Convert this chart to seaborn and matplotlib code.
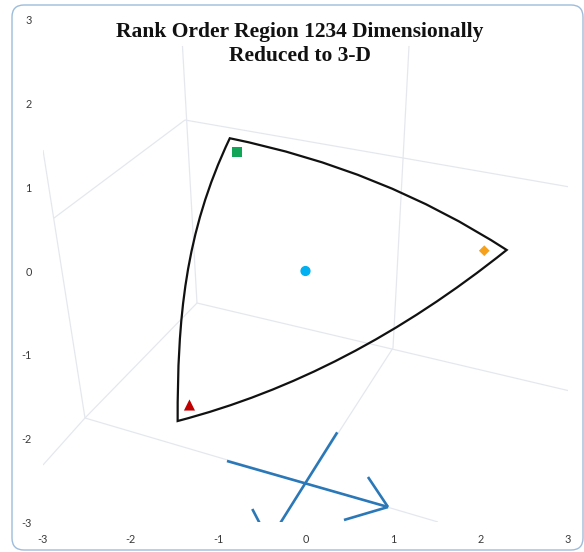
import matplotlib
matplotlib.use("Agg")
import numpy as np
import pandas as pd
import matplotlib.pyplot as plt
from matplotlib.path import Path
from matplotlib.patches import PathPatch, FancyBboxPatch
import seaborn as sns

# Corners of the projected rank-order region: top-left, right, bottom-left
corner_x = [-0.865, 2.299, -1.461]
corner_y = [1.584, 0.251, -1.790]
# Bezier control points that bend each boundary arc
top_arc_ctrl = [(0.874, 1.217)]
bottom_arc_ctrl = [(0.491, -1.260)]
left_arc_ctrl = [(-1.463, -0.585), (-1.382, 0.450)]

# Marked points inside the region
point_names = ["top", "right", "bottom", "center"]
point_x = [-0.786, 2.043, -1.326, 0.0]
point_y = [1.417, 0.242, -1.599, 0.0]
point_colors = ["#10a557", "#f6a11c", "#c00000", "#00b0f0"]
point_markers = ["s", "D", "^", "o"]
point_sizes = [48, 30, 64, 54]

# Faint wireframe edges of the 3-D box (start x, start y, end x, end y)
box_x0 = [-1.406, 1.183, -1.377, -1.240, -1.377, -1.240, -3.000, -2.520, -2.520, 1.000]
box_y0 = [2.685, 2.685, 1.802, -0.382, 1.802, -0.382, 1.444, -1.754, -1.754, -0.919]
box_x1 = [-1.240, 1.000, 3.023, 3.023, -2.874, -2.520, -2.520, -3.000, 1.514, -0.280]
box_y1 = [-0.382, -0.919, 1.002, -1.432, 0.632, -1.754, -1.754, -2.315, -2.995, -2.995]

# Orientation triad: shaft and arrow-head strokes (start x, start y, end x, end y)
triad_x0 = [-0.897, 0.943, 0.943, 0.363, -0.417]
triad_y0 = [-2.267, -2.816, -2.816, -1.925, -3.222]
triad_x1 = [0.943, 0.714, 0.440, -0.417, -0.608]
triad_y1 = [-2.816, -2.458, -2.971, -3.222, -2.840]

tick_values = [-3, -2, -1, 0, 1, 2, 3]
tick_labels = ["-3", "-2", "-1", "0", "1", "2", "3"]
title_lines = ["Rank Order Region 1234 Dimensionally", "Reduced to 3-D"]

sns.set_theme(style="white")
plt.rcParams["font.family"] = ["Lato", "DejaVu Sans"]

fig = plt.figure(figsize=(5.84, 5.52), dpi=100)
ax = fig.add_axes([0.0736, 0.0536, 0.899, 0.9109])
ax.set_xlim(-3, 3)
ax.set_ylim(-3, 3)
for s in ax.spines.values():
    s.set_visible(False)

# 3-D box wireframe
for x0, y0, x1, y1 in zip(box_x0, box_y0, box_x1, box_y1):
    ax.plot([x0, x1], [y0, y1], color="#e4e8ee", lw=0.9, zorder=1,
            solid_capstyle="butt")

# Region boundary made of three arcs
verts = [(corner_x[0], corner_y[0]),
         top_arc_ctrl[0], (corner_x[1], corner_y[1]),
         bottom_arc_ctrl[0], (corner_x[2], corner_y[2]),
         left_arc_ctrl[0], left_arc_ctrl[1], (corner_x[0], corner_y[0]),
         (corner_x[0], corner_y[0])]
codes = [Path.MOVETO,
         Path.CURVE3, Path.CURVE3,
         Path.CURVE3, Path.CURVE3,
         Path.CURVE4, Path.CURVE4, Path.CURVE4,
         Path.CLOSEPOLY]
ax.add_patch(PathPatch(Path(verts, codes), facecolor="none", edgecolor="#111111",
                       lw=1.6, joinstyle="miter", zorder=3))

# Orientation triad
for x0, y0, x1, y1 in zip(triad_x0, triad_y0, triad_x1, triad_y1):
    ax.plot([x0, x1], [y0, y1], color="#2a78b8", lw=1.9, zorder=4,
            solid_capstyle="butt")

# Marked points
df = pd.DataFrame({"name": point_names, "x": point_x, "y": point_y})
sns.scatterplot(data=df, x="x", y="y", hue="name", style="name", size="name",
                palette=dict(zip(point_names, point_colors)),
                markers=dict(zip(point_names, point_markers)),
                sizes=dict(zip(point_names, point_sizes)),
                linewidth=0, legend=False, ax=ax, zorder=5)

ax.set_xlabel("")
ax.set_ylabel("")
ax.set_xticks(tick_values)
ax.set_xticklabels(tick_labels)
ax.set_yticks(tick_values)
ax.set_yticklabels(tick_labels)
ax.tick_params(axis="both", length=0, labelsize=7.8, labelcolor="#3a3a3a")
ax.tick_params(axis="x", pad=8)
ax.tick_params(axis="y", pad=8)

# Two-line bold serif title
for i, line in enumerate(title_lines):
    fig.text(300 / 584, 1 - (37 + 24 * i) / 552, line, ha="center", va="baseline",
             fontfamily="Liberation Serif", fontweight="bold", fontsize=15.5,
             color="#111111")

# Rounded outer frame
fig.patches.append(FancyBboxPatch((0.12, 0.02), 5.71, 5.45,
                                  boxstyle="round,pad=0,rounding_size=0.12",
                                  transform=fig.dpi_scale_trans,
                                  facecolor="none", edgecolor="#9dbcdb", lw=1.0))

fig.savefig("out.png", dpi=100)
